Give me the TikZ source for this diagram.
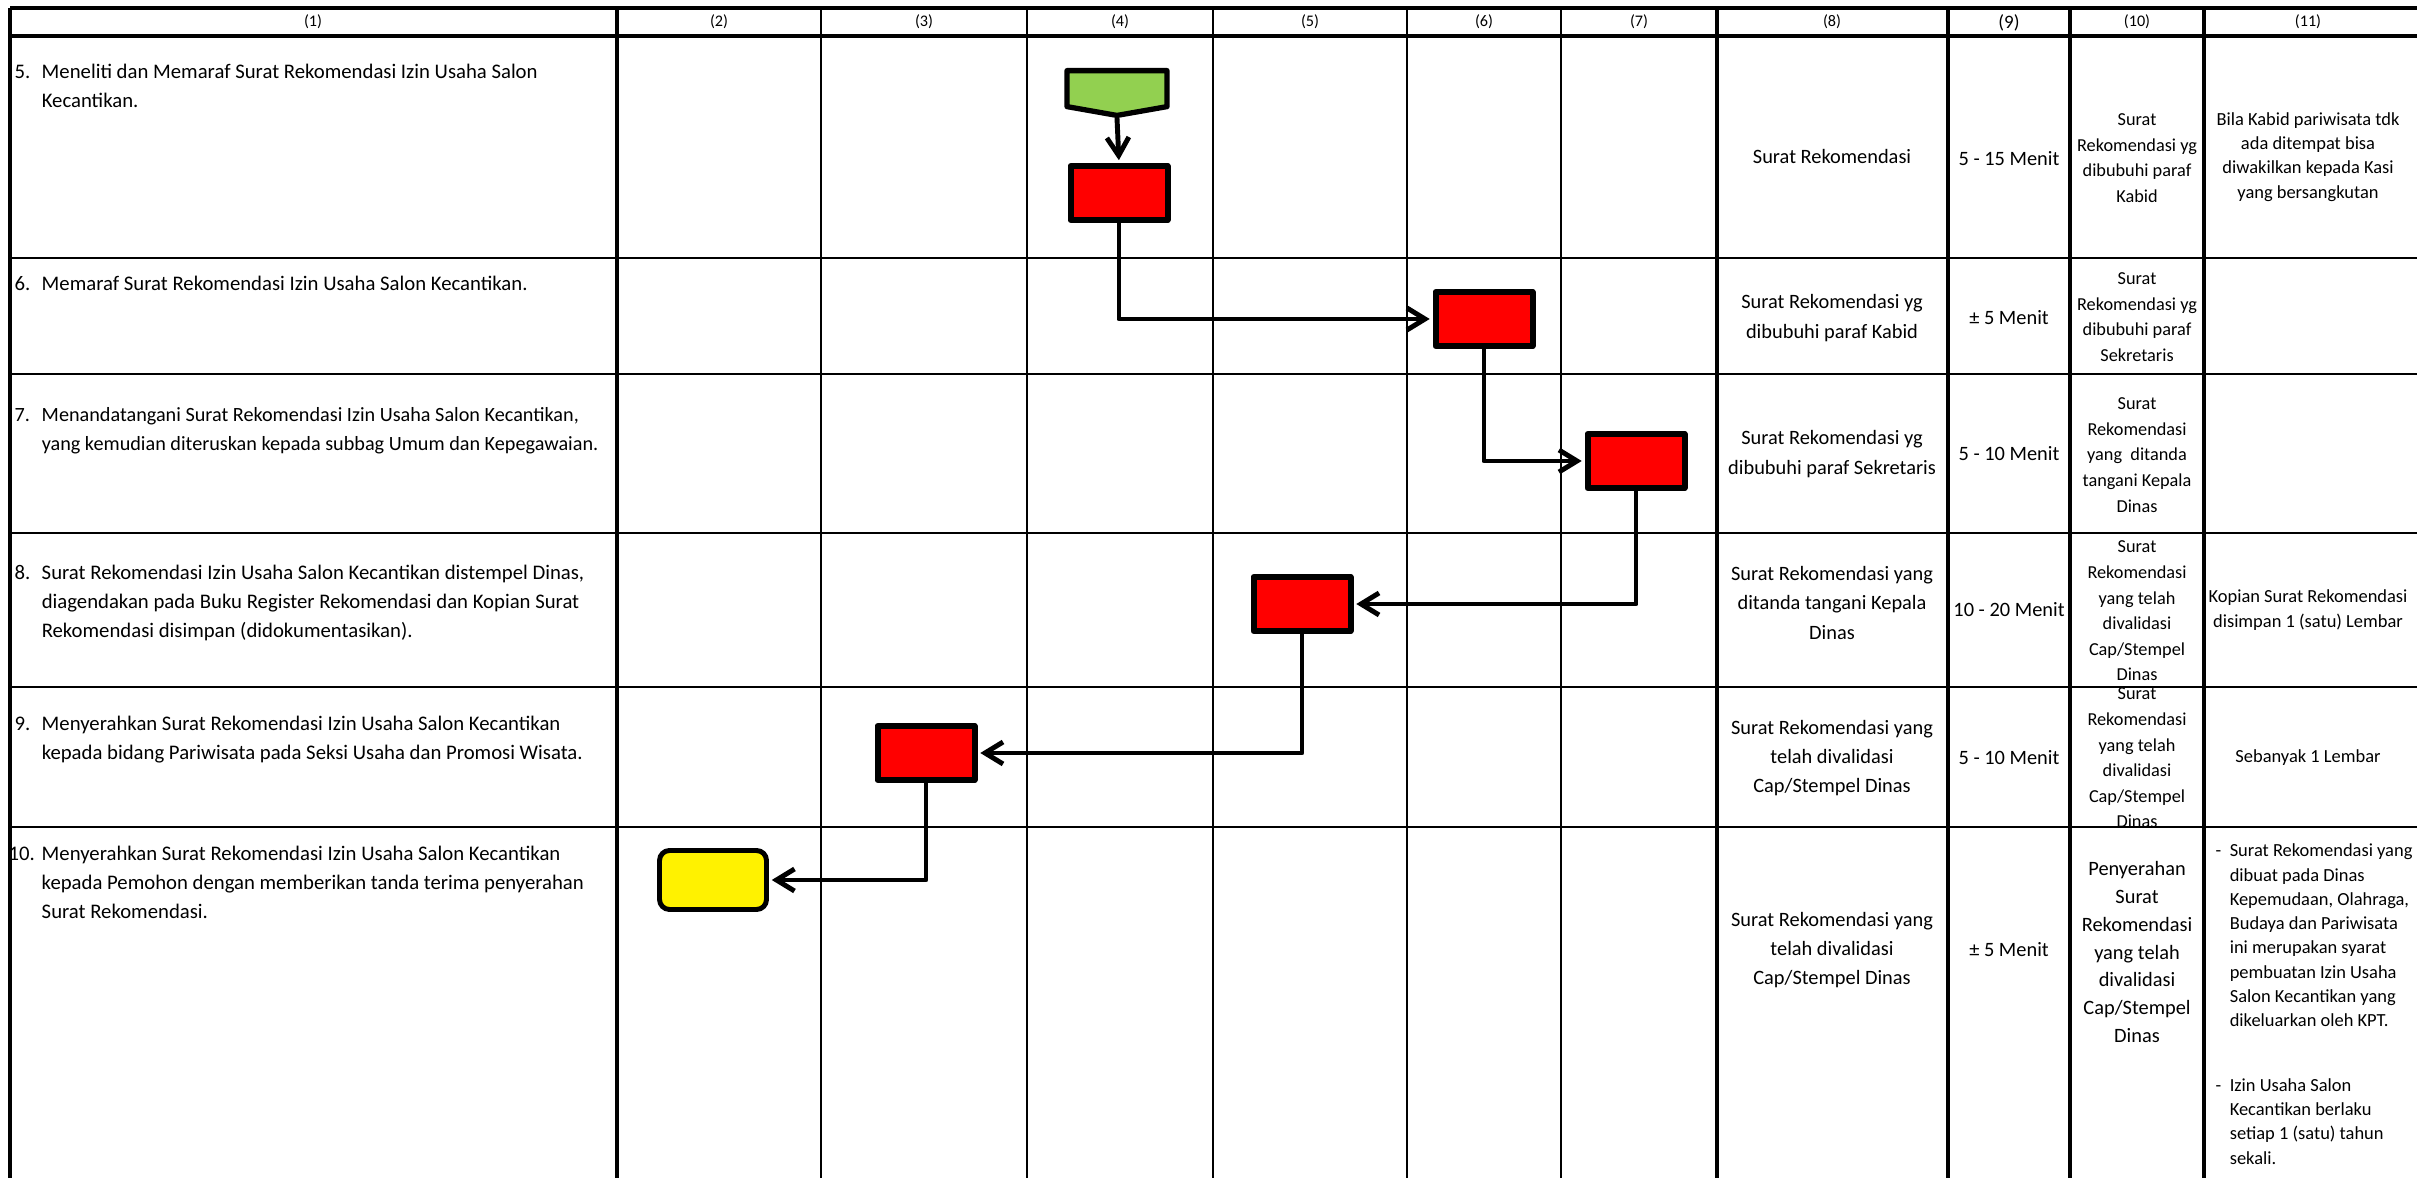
\documentclass[tikz,border=0pt]{standalone}
\usepackage{fontspec}
\setmainfont{Carlito}
\usetikzlibrary{arrows.meta,shapes.symbols}
\definecolor{hijau}{HTML}{92D050}
\newcommand{\langkahteks}[3]{\begin{tabular}[t]{@{}p{#1}@{}l@{}}#2 & #3\end{tabular}}
\begin{document}
\begin{tikzpicture}[x=0.1mm, y=-0.1mm, line join=round, >={Straight Barb[length=1.8mm,width=2.2mm]},
    tebal/.style={line width=1.3pt},
    tipis/.style={line width=0.5pt},
    baris/.style={line width=0.8pt},
    kepala/.style={font=\fontsize{4.6}{5.5}\selectfont, inner sep=0pt},
    langkah/.style={anchor=base west, inner sep=0pt, font=\fontsize{5.9}{8.25}\selectfont},
    isi/.style={align=center, inner sep=0pt, font=\fontsize{5.8}{8.3}\selectfont},
    isikecil/.style={align=center, inner sep=0pt, font=\fontsize{5.2}{7.3}\selectfont},
    catatan/.style={align=center, inner sep=0pt, font=\fontsize{5.25}{6.9}\selectfont},
    kotak/.style={draw, line width=1.7pt, fill=red, minimum width=0.97cm, minimum height=0.54cm, inner sep=0pt},
    konektor/.style={draw, line width=1.5pt, fill=hijau, signal, signal to=south, signal pointer angle=160, minimum width=1.0cm, minimum height=0.36cm, inner sep=0pt, anchor=north},
    akhir/.style={draw, line width=1.4pt, fill=yellow, rounded corners=1mm, minimum width=1.07cm, minimum height=0.59cm, inner sep=0pt},
    alur/.style={line width=1.4pt, ->, shorten >=0.8pt}]
\useasboundingbox (0,0) rectangle (2417,1178);
\foreach \x in {821,1027,1213,1407,1561}
  \draw[tipis] (\x,8) -- (\x,1178);
\foreach \y in {258,374,533,687,827}
  \draw[baris] (10,\y) -- (2417,\y);
\foreach \x in {10,617,1717,1948,2070,2204}
  \draw[tebal] (\x,8) -- (\x,1178);
\draw[tebal] (10,8) -- (2417,8);
\draw[tebal] (10,36) -- (2417,36);

\foreach \x/\n in {313/1,719/2,924/3,1120/4,1310/5,1484/6,1639/7,1832/8,2137/10,2308/11}
  \node[kepala] (h\n) at (\x,22) {(\n)};
\node[kepala, font=\fontsize{5.4}{6.5}\selectfont] (h9) at (2009,23) {(9)};

\node[langkah] (s5) at (14,79) {\langkahteks{7.7pt}{5.}{Meneliti dan Memaraf Surat Rekomendasi Izin Usaha Salon\\ & Kecantikan.}};
\node[langkah] (s6) at (14,291) {\langkahteks{7.7pt}{6.}{Memaraf Surat Rekomendasi Izin Usaha Salon Kecantikan.}};
\node[langkah, font=\fontsize{5.75}{8.25}\selectfont] (s7) at (14,422) {\langkahteks{7.7pt}{7.}{Menandatangani Surat Rekomendasi Izin Usaha Salon Kecantikan,\\ & yang kemudian diteruskan kepada subbag Umum dan Kepegawaian.}};
\node[langkah] (s8) at (14,580) {\langkahteks{7.7pt}{8.}{Surat Rekomendasi Izin Usaha Salon Kecantikan distempel Dinas,\\ & diagendakan pada Buku Register Rekomendasi dan Kopian Surat\\ & Rekomendasi disimpan (didokumentasikan).}};
\node[langkah] (s9) at (14,731) {\langkahteks{7.7pt}{9.}{Menyerahkan Surat Rekomendasi Izin Usaha Salon Kecantikan\\ & kepada bidang Pariwisata pada Seksi Usaha dan Promosi Wisata.}};
\node[langkah] (s10) at (8,861) {\langkahteks{9.4pt}{10.}{Menyerahkan Surat Rekomendasi Izin Usaha Salon Kecantikan\\ & kepada Pemohon dengan memberikan tanda terima penyerahan\\ & Surat Rekomendasi.}};

\node[konektor] (k1) at (1117,68) {};
\node[kotak] (b1) at (1119,193) {};
\node[kotak] (b2) at (1484,319) {};
\node[kotak] (b3) at (1636,461) {};
\node[kotak] (b4) at (1302,604) {};
\node[kotak] (b5) at (926,753) {};
\node[akhir] (ak) at (713,880) {};
\draw[alur] (k1.south) -- (b1.north);
\draw[alur] (b1.south) |- (b2.west);
\draw[alur] (b2.south) |- (b3.west);
\draw[alur] (b3.south) |- (b4.east);
\draw[alur] (b4.south) |- (b5.east);
\draw[alur] (b5.south) |- (ak.east);

\node[isi] (d5) at (1832,157) {Surat Rekomendasi};
\node[isi] (d6) at (1832,318) {Surat Rekomendasi yg\\dibubuhi paraf Kabid};
\node[isi] (d7) at (1832,454) {Surat Rekomendasi yg\\dibubuhi paraf Sekretaris};
\node[isi] (d8) at (1832,603) {Surat Rekomendasi yang\\ditanda tangani Kepala\\Dinas};
\node[isi] (d9) at (1832,758) {Surat Rekomendasi yang\\telah divalidasi\\Cap/Stempel Dinas};
\node[isi] (d10) at (1832,950) {Surat Rekomendasi yang\\telah divalidasi\\Cap/Stempel Dinas};

\node[isi] (w5) at (2009,159) {5 - 15 Menit};
\node[isi] (w6) at (2009,318) {± 5 Menit};
\node[isi] (w7) at (2009,454) {5 - 10 Menit};
\node[isi] (w8) at (2009,610) {10 - 20 Menit};
\node[isi] (w9) at (2009,758) {5 - 10 Menit};
\node[isi] (w10) at (2009,950) {± 5 Menit};

\node[isikecil] (o5) at (2137,158) {Surat\\Rekomendasi yg\\dibubuhi paraf\\Kabid};
\node[isikecil] (o6) at (2137,317) {Surat\\Rekomendasi yg\\dibubuhi paraf\\Sekretaris};
\node[isikecil] (o7) at (2137,455) {Surat\\Rekomendasi\\yang~ ditanda\\tangani Kepala\\Dinas};
\node[isikecil] (o8) at (2137,611) {Surat\\Rekomendasi\\yang telah\\divalidasi\\Cap/Stempel\\Dinas};
\node[isikecil] (o9) at (2137,758) {Surat\\Rekomendasi\\yang telah\\divalidasi\\Cap/Stempel\\Dinas};
\node[isi, font=\fontsize{5.8}{7.9}\selectfont] (o10) at (2137,952) {Penyerahan\\Surat\\Rekomendasi\\yang telah\\divalidasi\\Cap/Stempel\\Dinas};

\node[catatan] (c5) at (2308,157) {Bila Kabid pariwisata tdk\\ada ditempat bisa\\diwakilkan kepada Kasi\\yang bersangkutan};
\node[catatan] (c8) at (2308,610) {Kopian Surat Rekomendasi\\disimpan 1 (satu) Lembar};
\node[catatan] (c9) at (2308,758) {Sebanyak 1 Lembar};
\node[catatan, anchor=base west] (c10) at (2215,857) {\begin{tabular}[t]{@{}p{4pt}@{}l@{}}
- & Surat Rekomendasi yang\\ & dibuat pada Dinas\\ & Kepemudaan, Olahraga,\\ & Budaya dan Pariwisata\\ & ini merupakan syarat\\ & pembuatan Izin Usaha\\ & Salon Kecantikan yang\\ & dikeluarkan oleh KPT.\\[11.5pt]
- & Izin Usaha Salon\\ & Kecantikan berlaku\\ & setiap 1 (satu) tahun\\ & sekali.\end{tabular}};
\end{tikzpicture}
\end{document}
